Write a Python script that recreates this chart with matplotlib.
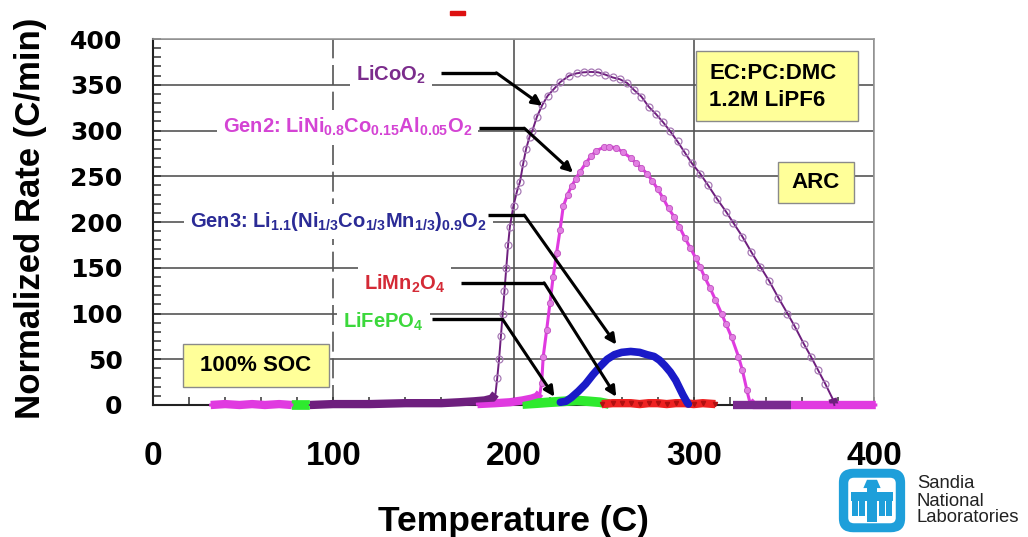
import numpy as np
import matplotlib
matplotlib.use('Agg')
import matplotlib.pyplot as plt
from matplotlib.patches import Rectangle, FancyBboxPatch, Polygon

plt.rcParams['font.family'] = ['Liberation Sans', 'DejaVu Sans']
plt.rcParams['font.weight'] = 'bold'
plt.rcParams['axes.labelweight'] = 'bold'
plt.rcParams['mathtext.fontset'] = 'custom'
plt.rcParams['mathtext.rm'] = 'Liberation Sans:bold'
plt.rcParams['mathtext.bf'] = 'Liberation Sans:bold'
plt.rcParams['mathtext.it'] = 'Liberation Sans:bold'
plt.rcParams['mathtext.default'] = 'rm'

nan = np.nan

# ---- data (temperature C, normalized rate C/min) ----
licoo2_t = [87, 100, 120, 140, 160, 170, 178, 184, 188, 190, 191, 192, 193, 194, 195,
            196, 197, 198, 200, 202, 203.6, 205.4, 207, 208.9, 210.5, 213, 216, 219,
            222.7, 226, 231, 235, 239, 243, 247, 251, 255, 259, 263, 267, 271, 275,
            279, 283, 287, 291, 295, 299, 303.5, 308, 313, 318, 322, 327, 332, 337,
            342, 347, 352, 356, 361, 365, 369, 373, 377, 378]
licoo2_v = [0, 1, 1, 2, 2, 3, 4, 5, 7, 12, 30, 50, 75, 100, 125,
            150, 175, 195, 218, 234, 244, 264, 280, 293, 300, 315, 328, 338,
            346, 353, 360, 362.5, 363.6, 364, 363.6, 361, 358, 356, 352, 344, 337, 326,
            318, 309, 299, 288, 276, 264, 253, 240, 225, 211, 199, 184, 167, 151,
            135, 117, 100, 86, 67, 53, 38, 23, 7, 0]
licoo2_tail_t = [322, 354]
licoo2_tail_v = [0, 0]

gen2_t = [32, 40, 48, 55, 62, 70, 77, nan, 180, 190, 198, 205, 210, 213, 214.7, 215.6,
          216.5, 218.4, 220.2, 222, 223.9, 225.8, 227.6, 230, 232.2, 234.5, 236.9, 240,
          243, 246, 250, 253, 257, 261, 265, 268, 271, 274, 277, 280, 283, 286, 289,
          292, 295, 298, 301, 303.5, 306, 309, 312, 315.4, 318, 321, 324.8, 327, 329.5,
          331, 333, 340, 350, 360, 370, 380, 390, 401]
gen2_v = [0, 1, 0, 1, 0, 1, 0, nan, 1, 2, 3, 5, 7, 9, 13, 24,
          53, 82, 111, 140, 166, 191, 217, 230, 239, 247, 255, 264,
          272, 278, 281.5, 282.5, 281, 276, 270, 264, 259, 253, 245, 236, 226, 215, 206,
          195, 183, 172, 161, 151, 140, 128, 115, 100, 88, 74, 53, 38, 16,
          4, 0, 0, 0, 0, 0, 0, 0, 0]

gen3_t = [226, 229, 232, 236, 240, 244, 248, 252, 256, 260, 265, 270, 274, 278, 281,
          284, 287, 290, 292, 294, 296, 297]
gen3_v = [3, 4, 8, 15, 23, 33, 42, 50, 55, 57.5, 58.5, 57.5, 55, 53, 49,
          43, 36, 27, 19, 11, 4, 1]

lmo_t = [249, 255, 260, 265, 270, 275, 280, 285, 290, 295, 300, 305, 312]
lmo_v = [1, 2, 2, 2, 1, 2, 2, 1, 2, 2, 1, 2, 1]

lfp_t = [77, 80, 84, 87, nan, 205, 213, 220, 228, 235, 242, 248, 253]
lfp_v = [0, 0, 0, 0, nan, 1, 2, 3, 4, 5, 4, 3, 1]

labels = ['LiCoO$_2$',
          'Gen2: LiNi$_{0.8}$Co$_{0.15}$Al$_{0.05}$O$_2$',
          'Gen3: Li$_{1.1}$(Ni$_{1/3}$Co$_{1/3}$Mn$_{1/3}$)$_{0.9}$O$_2$',
          'LiMn$_2$O$_4$',
          'LiFePO$_4$']
label_colors = ['#7B2C8C', '#D444D4', '#2B2B96', '#D42A36', '#3CD83C']

purple = '#6E1F7E'
magenta = '#E03AE0'

fig = plt.figure(figsize=(10.28, 5.37), dpi=100)
ax = fig.add_axes([153 / 1028, 132 / 537, 721 / 1028, 366 / 537])

def base(t, v, lim):
    v = np.array(v, dtype=float)
    return t, np.where(v <= lim, v, nan)

def marked(v, lim):
    v = np.array(v, dtype=float)
    return list(np.nan_to_num(v) > lim)

# curves
ax.plot(gen2_t, gen2_v, color=magenta, lw=2.2, marker='o', ms=4.5,
        markevery=marked(gen2_v, 13),
        mfc='#E27FE2', mec='#C050C0', mew=0.6, zorder=3.6, clip_on=False)
t, v = base(gen2_t, gen2_v, 13)
ax.plot(t, v, color=magenta, lw=6, zorder=3.1, clip_on=False, solid_capstyle='butt')

ax.plot(licoo2_t, licoo2_v, color=purple, lw=1.4, marker='o', ms=5,
        markevery=marked(licoo2_v, 12),
        mfc='none', mec='#A77AB5', mew=0.9, zorder=3.7, clip_on=False)
t, v = base(licoo2_t, licoo2_v, 12)
ax.plot(t, v, color=purple, lw=6, zorder=3.2, clip_on=False, solid_capstyle='butt')
ax.plot(licoo2_tail_t, licoo2_tail_v, color='#7A2A90', lw=6, zorder=3.8,
        clip_on=False, solid_capstyle='butt')

ax.plot(lfp_t, lfp_v, color='#2EEA2E', lw=7, zorder=3.3, clip_on=False,
        solid_capstyle='butt')
ax.plot(lmo_t, lmo_v, color='#EE2222', lw=6, marker='v', ms=3, mfc='#B01010',
        mec='#B01010', zorder=3.4, clip_on=False, solid_capstyle='butt')
ax.plot(gen3_t, gen3_v, color='#1A1AC8', lw=5.5, zorder=3.5, clip_on=False,
        solid_capstyle='round')

# labels with leader arrows: (text x, text y, start x, bend x, line y, tip x, tip y)
ann = [(132, 361, 160, 190.5, 363, 216, 327),
       (108, 304, 181, 206, 302.5, 233, 254),
       (103, 201, 186, 206, 207.5, 257, 66),
       (139.5, 132, 171, 217, 133.5, 257, 9),
       (128, 91, 155, 194, 93.5, 222.7, 9)]
for (tx, ty, x0, x1, ly, ax_, ay), lab, c in zip(ann, labels, label_colors):
    ax.text(tx, ty, lab, color=c, fontsize=14.5, ha='center', va='center', zorder=4,
            bbox=dict(boxstyle='square,pad=0.3', fc='white', ec='none'))
    ax.plot([x0, x1], [ly, ly], color='black', lw=2.4, zorder=5, solid_capstyle='butt')
    ax.annotate('', xy=(ax_, ay), xytext=(x1, ly), zorder=5,
                arrowprops=dict(arrowstyle='-|>', color='black', lw=2.2,
                                mutation_scale=15, shrinkA=0, shrinkB=0))

# yellow info boxes
box_kw = dict(fc='#FFFF99', ec='#8A8A8A', lw=1.0, zorder=3)
ax.add_patch(Rectangle((16.6, 19.7), 81, 47, **box_kw))
ax.text(57, 43, '100% SOC', fontsize=16, ha='center', va='center', zorder=3.05)
ax.add_patch(Rectangle((301.2, 310.4), 89.9, 76.5, **box_kw))
ax.text(308.6, 347.5, 'EC:PC:DMC\n1.2M LiPF6', fontsize=16, ha='left', va='center',
        linespacing=1.35, zorder=3.05)
ax.add_patch(Rectangle((346.7, 220.8), 42.2, 44.8, **box_kw))
ax.text(367.8, 243, 'ARC', fontsize=16, ha='center', va='center', zorder=3.05)

# axes styling
ax.set_xlim(0, 400)
ax.set_ylim(0, 400)
ax.set_xticks([0, 100, 200, 300, 400])
ax.set_xticks(np.arange(0, 401, 20), minor=True)
ax.set_yticks(np.arange(0, 401, 50))
ax.set_yticks(np.arange(0, 401, 10), minor=True)
ax.tick_params(which='both', direction='in', length=6, width=1.1, color='#333333')
ax.tick_params(axis='y', pad=22, labelsize=18)
ax.tick_params(axis='x', pad=26, labelsize=24)
for lbl in ax.get_yticklabels():
    lbl.set_fontfamily('DejaVu Sans')
    lbl.set_fontweight('bold')

ax.set_axisbelow(True)
ax.grid(True, which='major', color='#555555', lw=1.2)
ax.get_xgridlines()[1].set_dashes([12, 4])
for s in ['left', 'bottom']:
    ax.spines[s].set_linewidth(1.5)
    ax.spines[s].set_color('#222222')
for s in ['top', 'right']:
    ax.spines[s].set_linewidth(1.2)
    ax.spines[s].set_color('#999999')

ax.set_xlabel('Temperature (C)', fontsize=25.5, fontweight='bold')
ax.xaxis.set_label_coords(0.5, -0.272)
ax.set_ylabel('Normalized Rate (C/min)', fontsize=25, fontweight='bold')
ax.yaxis.set_label_coords(-0.147, 0.51)

# stray red mark at the top of the slide
fig.add_artist(Rectangle((450 / 1028, 522 / 537), 15 / 1028, 4 / 537,
                         transform=fig.transFigure, color='#DD1111'))

# Sandia logo
lg = fig.add_axes([836 / 1028, 2 / 537, 72 / 1028, 69 / 537], zorder=-1)
lg.set_xlim(0, 1)
lg.set_ylim(0, 1)
lg.axis('off')
blue = '#1E9FDA'
lg.add_patch(FancyBboxPatch((0.04, 0.04), 0.92, 0.92,
                            boxstyle='round,pad=0,rounding_size=0.2', fc=blue, ec='none'))
lg.add_patch(FancyBboxPatch((0.17, 0.17), 0.66, 0.66,
                            boxstyle='round,pad=0,rounding_size=0.08', fc='white', ec='none'))
lg.add_patch(Polygon([[0.38, 0.68], [0.62, 0.68], [0.57, 0.80], [0.43, 0.80]], fc=blue))
lg.add_patch(Rectangle((0.43, 0.19), 0.14, 0.55, fc=blue))
lg.add_patch(Rectangle((0.21, 0.50), 0.58, 0.12, fc=blue))
for x in [0.22, 0.32, 0.60, 0.70]:
    lg.add_patch(Rectangle((x, 0.28), 0.08, 0.26, fc=blue))

fig.text(917 / 1028, 36 / 537, 'Sandia\nNational\nLaboratories', ha='left', va='center',
         fontsize=13.3, fontweight='normal', color='#222222', linespacing=1.0,
         family=['Liberation Sans Narrow', 'Liberation Sans'])

fig.savefig('out.png', dpi=100)
